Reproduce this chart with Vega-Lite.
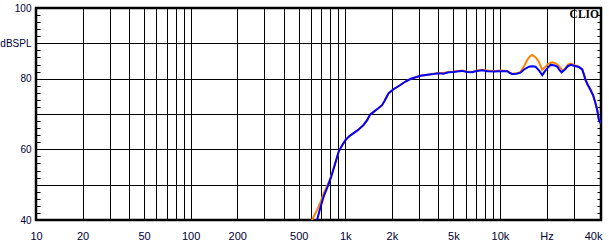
{
  "$schema": "https://vega.github.io/schema/vega-lite/v6.json",
  "width": 565,
  "height": 212,
  "autosize": {"type": "none"},
  "padding": {"left": 36, "top": 8, "right": 8, "bottom": 26},
  "background": "white",
  "config": {
    "view": {"stroke": "black", "strokeWidth": 2.5},
    "axis": {"labelFont": "Liberation Sans", "labelFontSize": 11, "labelColor": "#000033"}
  },
  "datasets": {
    "curves": [
      {"s": "orange", "f": 609, "db": 40}, {"s": "orange", "f": 656, "db": 42.8}, {"s": "orange", "f": 690, "db": 45}, {"s": "orange", "f": 724, "db": 47.5}, {"s": "orange", "f": 770, "db": 50}, {"s": "orange", "f": 812, "db": 52.6},
      {"s": "orange", "f": 860, "db": 56}, {"s": "orange", "f": 905, "db": 59.3}, {"s": "orange", "f": 950, "db": 61}, {"s": "orange", "f": 1002, "db": 62.6}, {"s": "orange", "f": 1060, "db": 63.7}, {"s": "orange", "f": 1132, "db": 64.6}, {"s": "orange", "f": 1220, "db": 65.6}, {"s": "orange", "f": 1313, "db": 66.9}, {"s": "orange", "f": 1380, "db": 68.2}, {"s": "orange", "f": 1451, "db": 69.9}, {"s": "orange", "f": 1525, "db": 70.6}, {"s": "orange", "f": 1620, "db": 71.5}, {"s": "orange", "f": 1728, "db": 72.5}, {"s": "orange", "f": 1800, "db": 73.8}, {"s": "orange", "f": 1907, "db": 75.9}, {"s": "orange", "f": 2050, "db": 77}, {"s": "orange", "f": 2270, "db": 78.2}, {"s": "orange", "f": 2450, "db": 79.2}, {"s": "orange", "f": 2634, "db": 79.9}, {"s": "orange", "f": 2850, "db": 80.4}, {"s": "orange", "f": 3058, "db": 80.8}, {"s": "orange", "f": 3400, "db": 81.1}, {"s": "orange", "f": 3728, "db": 81.4}, {"s": "orange", "f": 4000, "db": 81.6}, {"s": "orange", "f": 4309, "db": 81.6}, {"s": "orange", "f": 4650, "db": 81.9}, {"s": "orange", "f": 5024, "db": 82.0}, {"s": "orange", "f": 5400, "db": 82.2}, {"s": "orange", "f": 5691, "db": 82.3}, {"s": "orange", "f": 6100, "db": 82.0}, {"s": "orange", "f": 6609, "db": 81.9}, {"s": "orange", "f": 7100, "db": 82.3}, {"s": "orange", "f": 7668, "db": 82.5}, {"s": "orange", "f": 8300, "db": 82.3}, {"s": "orange", "f": 9118, "db": 82.1}, {"s": "orange", "f": 10075, "db": 82.3}, {"s": "orange", "f": 11130, "db": 82.2}, {"s": "orange", "f": 11600, "db": 81.7}, {"s": "orange", "f": 11995, "db": 81.4}, {"s": "orange", "f": 12800, "db": 81.5}, {"s": "orange", "f": 13574, "db": 81.9}, {"s": "orange", "f": 14300, "db": 83.5}, {"s": "orange", "f": 15000, "db": 85.3}, {"s": "orange", "f": 15600, "db": 86.3}, {"s": "orange", "f": 16162, "db": 86.7}, {"s": "orange", "f": 17000, "db": 86.0}, {"s": "orange", "f": 17829, "db": 84.8}, {"s": "orange", "f": 18755, "db": 82.5}, {"s": "orange", "f": 19500, "db": 83.2}, {"s": "orange", "f": 20500, "db": 84.2}, {"s": "orange", "f": 21771, "db": 84.6}, {"s": "orange", "f": 22800, "db": 84.4}, {"s": "orange", "f": 24022, "db": 83.6}, {"s": "orange", "f": 25500, "db": 82.2}, {"s": "orange", "f": 26500, "db": 83}, {"s": "orange", "f": 27500, "db": 84}, {"s": "orange", "f": 28600, "db": 84.3}, {"s": "orange", "f": 30500, "db": 83.8}, {"s": "orange", "f": 32360, "db": 83.4}, {"s": "orange", "f": 34040, "db": 82.6}, {"s": "orange", "f": 35000, "db": 81.0}, {"s": "orange", "f": 35760, "db": 79.6}, {"s": "orange", "f": 37000, "db": 78.2}, {"s": "orange", "f": 38530, "db": 76.8}, {"s": "orange", "f": 40000, "db": 75.3}, {"s": "orange", "f": 41510, "db": 73.0}, {"s": "orange", "f": 42600, "db": 71}, {"s": "orange", "f": 43610, "db": 68.3}, {"s": "orange", "f": 44400, "db": 67.6}, {"s": "orange", "f": 45000, "db": 67.6},
      {"s": "blue", "f": 656, "db": 40}, {"s": "blue", "f": 690, "db": 43.5}, {"s": "blue", "f": 724, "db": 46.6}, {"s": "blue", "f": 770, "db": 49.5}, {"s": "blue", "f": 812, "db": 52.3}, {"s": "blue", "f": 860, "db": 56}, {"s": "blue", "f": 905, "db": 59.3}, {"s": "blue", "f": 950, "db": 61}, {"s": "blue", "f": 1002, "db": 62.6}, {"s": "blue", "f": 1060, "db": 63.7}, {"s": "blue", "f": 1132, "db": 64.6}, {"s": "blue", "f": 1220, "db": 65.6}, {"s": "blue", "f": 1313, "db": 66.9}, {"s": "blue", "f": 1380, "db": 68.2}, {"s": "blue", "f": 1451, "db": 69.9}, {"s": "blue", "f": 1525, "db": 70.6}, {"s": "blue", "f": 1620, "db": 71.5}, {"s": "blue", "f": 1728, "db": 72.5}, {"s": "blue", "f": 1800, "db": 73.8}, {"s": "blue", "f": 1907, "db": 75.9}, {"s": "blue", "f": 2050, "db": 77}, {"s": "blue", "f": 2270, "db": 78.2}, {"s": "blue", "f": 2450, "db": 79.2}, {"s": "blue", "f": 2634, "db": 79.9}, {"s": "blue", "f": 2850, "db": 80.4}, {"s": "blue", "f": 3058, "db": 80.8}, {"s": "blue", "f": 3400, "db": 81.1}, {"s": "blue", "f": 3728, "db": 81.3}, {"s": "blue", "f": 4000, "db": 81.5}, {"s": "blue", "f": 4309, "db": 81.4}, {"s": "blue", "f": 4650, "db": 81.8}, {"s": "blue", "f": 5024, "db": 81.9}, {"s": "blue", "f": 5400, "db": 82.1}, {"s": "blue", "f": 5691, "db": 82.2}, {"s": "blue", "f": 6100, "db": 81.9}, {"s": "blue", "f": 6609, "db": 81.8}, {"s": "blue", "f": 7100, "db": 82.2}, {"s": "blue", "f": 7668, "db": 82.4}, {"s": "blue", "f": 8300, "db": 82.1}, {"s": "blue", "f": 9118, "db": 82.0}, {"s": "blue", "f": 10075, "db": 82.1}, {"s": "blue", "f": 11130, "db": 82.1}, {"s": "blue", "f": 11600, "db": 81.6}, {"s": "blue", "f": 11995, "db": 81.3}, {"s": "blue", "f": 12800, "db": 81.4}, {"s": "blue", "f": 13574, "db": 81.7}, {"s": "blue", "f": 14300, "db": 82.6}, {"s": "blue", "f": 15363, "db": 83.4}, {"s": "blue", "f": 16200, "db": 83.5}, {"s": "blue", "f": 16976, "db": 83.4}, {"s": "blue", "f": 17900, "db": 82.3}, {"s": "blue", "f": 18755, "db": 81.0}, {"s": "blue", "f": 19800, "db": 82.5}, {"s": "blue", "f": 21227, "db": 83.9}, {"s": "blue", "f": 22300, "db": 83.8}, {"s": "blue", "f": 23453, "db": 83.4}, {"s": "blue", "f": 24300, "db": 82.4}, {"s": "blue", "f": 25003, "db": 81.8}, {"s": "blue", "f": 26200, "db": 82.5}, {"s": "blue", "f": 27400, "db": 83.5}, {"s": "blue", "f": 28600, "db": 83.9}, {"s": "blue", "f": 30500, "db": 83.6}, {"s": "blue", "f": 32360, "db": 83.3}, {"s": "blue", "f": 34040, "db": 82.6}, {"s": "blue", "f": 35000, "db": 81.0}, {"s": "blue", "f": 35760, "db": 79.6}, {"s": "blue", "f": 37000, "db": 78.2}, {"s": "blue", "f": 38530, "db": 76.8}, {"s": "blue", "f": 40000, "db": 75.3}, {"s": "blue", "f": 41510, "db": 73.0}, {"s": "blue", "f": 42600, "db": 71}, {"s": "blue", "f": 43610, "db": 68.3}, {"s": "blue", "f": 44400, "db": 67.6}, {"s": "blue", "f": 45000, "db": 67.6}
    ],
    "brand": [{"t": "CLIO", "f": 45000, "db": 98}]
  },
  "layer": [
    {
      "data": {"name": "curves"},
      "transform": [{"filter": "datum.s == 'orange'"}],
      "mark": {"type": "line", "color": "#ff8000", "strokeWidth": 2, "clip": true},
      "encoding": {
        "x": {
          "field": "f", "type": "quantitative",
          "scale": {"type": "log", "domain": [10, 45000], "nice": false},
          "axis": {
            "title": null, "domain": false, "ticks": false, "labelPadding": 10,
            "values": [10,20,30,40,50,60,70,80,90,100,200,300,400,500,600,700,800,900,1000,2000,3000,4000,5000,6000,7000,8000,9000,10000,20000,30000,40000],
            "labelExpr": "indexof([10,20,50,100,200,500], datum.value) >= 0 ? format(datum.value, 'd') : (indexof([1000,2000,5000,10000,40000], datum.value) >= 0 ? format(datum.value / 1000, 'd') + 'k' : (datum.value == 20000 ? 'Hz' : ''))",
            "labelOverlap": false, "labelFlush": false,
            "grid": true, "gridColor": "black", "gridWidth": 1,
            "gridOpacity": {"condition": {"test": "datum.value == 40000", "value": 0}, "value": 1}
          }
        },
        "y": {
          "field": "db", "type": "quantitative",
          "scale": {"domain": [40, 100], "nice": false, "zero": false},
          "axis": {
            "orient": "left", "title": null, "domain": false,
            "values": [40,42,44,46,48,50,52,54,56,58,60,62,64,66,68,70,72,74,76,78,80,82,84,86,88,90,92,94,96,98,100],
            "labelExpr": "datum.value == 90 ? 'dBSPL' : (datum.value % 20 == 0 ? format(datum.value, 'd') : '')",
            "labelOverlap": false, "labelFlush": false, "labelBaseline": "middle", "labelFontSize": 10,
            "ticks": true, "tickSize": -4, "tickColor": "black", "tickWidth": 1, "labelPadding": 9,
            "grid": true, "gridColor": "black", "gridWidth": 1,
            "gridOpacity": {"condition": {"test": "datum.value % 10 != 0", "value": 0}, "value": 1}
          }
        }
      }
    },
    {
      "data": {"name": "curves"},
      "transform": [{"filter": "datum.s == 'blue'"}],
      "mark": {"type": "line", "color": "#0000ff", "strokeWidth": 2, "clip": true},
      "encoding": {
        "x": {"field": "f", "type": "quantitative"},
        "y": {
          "field": "db", "type": "quantitative",
          "axis": {
            "orient": "right", "title": null, "domain": false, "labels": false, "grid": false,
            "values": [40,42,44,46,48,50,52,54,56,58,60,62,64,66,68,70,72,74,76,78,80,82,84,86,88,90,92,94,96,98,100],
            "ticks": true, "tickSize": -4, "tickColor": "black", "tickWidth": 1
          }
        }
      }
    },
    {
      "data": {"name": "brand"},
      "mark": {"type": "text", "font": "Liberation Serif", "fontWeight": "bold", "fontSize": 11.5, "align": "right", "baseline": "middle", "dx": -2, "color": "black"},
      "encoding": {
        "x": {"field": "f", "type": "quantitative"},
        "y": {"field": "db", "type": "quantitative", "axis": null},
        "text": {"field": "t"}
      }
    }
  ],
  "resolve": {"axis": {"y": "independent"}}
}
